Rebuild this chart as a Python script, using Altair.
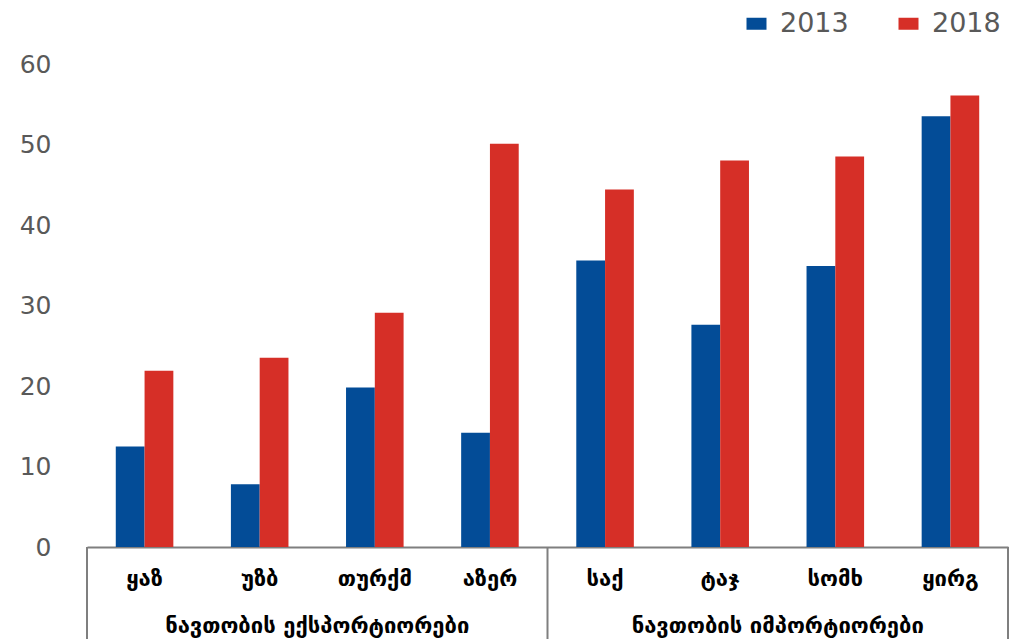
import altair as alt
import pandas as pd

# Oil exporters and importers, 2013 vs 2018
countries = ["ყაზ", "უზბ", "თურქმ", "აზერ", "საქ", "ტაჯ", "სომხ", "ყირგ"]
years = ["2013", "2018"]
values_2013 = [12.5, 7.8, 19.8, 14.2, 35.6, 27.6, 34.9, 53.5]
values_2018 = [21.9, 23.5, 29.1, 50.1, 44.4, 48.0, 48.5, 56.1]
y_ticks = [0, 10, 20, 30, 40, 50, 60]

group_labels = ["ნავთობის ექსპორტიორები", "ნავთობის იმპორტიორები"]
# each group label sits at the left edge of the third country in its group
group_anchor = [countries[2], countries[6]]
# box separators: left edges of the first country of each group, right edge of the last
box_left_edges = [countries[0], countries[4]]
box_right_edges = [countries[-1]]

BLUE = "#034C97"
RED = "#D62F27"
GREY_TEXT = "#595959"
LINE = "#7f7f7f"
FONT = "DejaVu Sans"

W, H = 921, 483

bars_df = pd.DataFrame(
    [{"country": c, "year": years[0], "value": v} for c, v in zip(countries, values_2013)]
    + [{"country": c, "year": years[1], "value": v} for c, v in zip(countries, values_2018)]
)
groups_df = pd.DataFrame({"country": group_anchor, "label": group_labels})
left_df = pd.DataFrame({"country": box_left_edges})
right_df = pd.DataFrame({"country": box_right_edges})

x_scale = alt.Scale(domain=countries, paddingInner=0, paddingOuter=0)

bars = alt.Chart(bars_df).mark_bar().encode(
    x=alt.X(
        "country:N",
        scale=x_scale,
        axis=alt.Axis(
            title=None,
            ticks=False,
            labelAngle=0,
            labelFont=FONT,
            labelFontSize=22,
            labelFontWeight="bold",
            labelColor="black",
            labelPadding=21,
            domainColor=LINE,
            domainWidth=2,
        ),
    ),
    xOffset=alt.XOffset("year:N", scale=alt.Scale(domain=years, paddingInner=0, paddingOuter=1)),
    y=alt.Y(
        "value:Q",
        scale=alt.Scale(domain=[0, 60], nice=False),
        axis=alt.Axis(
            title=None,
            values=y_ticks,
            grid=False,
            domain=False,
            ticks=False,
            labelFont=FONT,
            labelFontSize=25,
            labelColor=GREY_TEXT,
            labelPadding=36,
        ),
    ),
    color=alt.Color(
        "year:N",
        scale=alt.Scale(domain=years, range=[BLUE, RED]),
        legend=alt.Legend(
            title=None,
            orient="none",
            direction="horizontal",
            legendX=656,
            legendY=-54,
            padding=0,
            symbolType="M-1,-0.6H1V0.6H-1Z",
            symbolSize=400,
            symbolStrokeWidth=0,
            labelFont=FONT,
            labelFontSize=27,
            labelColor=GREY_TEXT,
            labelOffset=10,
            columnPadding=46,
        ),
    ),
)

# vertical sides of the group boxes, hanging below the baseline
left_rules = alt.Chart(left_df).mark_rule(color=LINE, strokeWidth=2).encode(
    x=alt.X("country:N", bandPosition=0, scale=x_scale),
    y=alt.value(H),
    y2=alt.value(H + 100),
)
right_rules = alt.Chart(right_df).mark_rule(color=LINE, strokeWidth=2).encode(
    x=alt.X("country:N", bandPosition=1, scale=x_scale),
    y=alt.value(H),
    y2=alt.value(H + 100),
)

group_text = alt.Chart(groups_df).mark_text(
    font=FONT, fontSize=22, fontWeight="bold", color="black", baseline="middle", align="center"
).encode(
    x=alt.X("country:N", bandPosition=0, scale=x_scale),
    y=alt.value(H + 79),
    text="label:N",
)

chart = (
    alt.layer(bars, left_rules, right_rules, group_text)
    .properties(
        width=W,
        height=H,
        autosize=alt.AutoSizeParams(type="none"),
        padding={"left": 87, "top": 64, "right": 5, "bottom": 92},
        background="white",
    )
    .configure_view(stroke=None)
)

chart.save("out.html", embed_options={"renderer": "svg", "actions": False})
